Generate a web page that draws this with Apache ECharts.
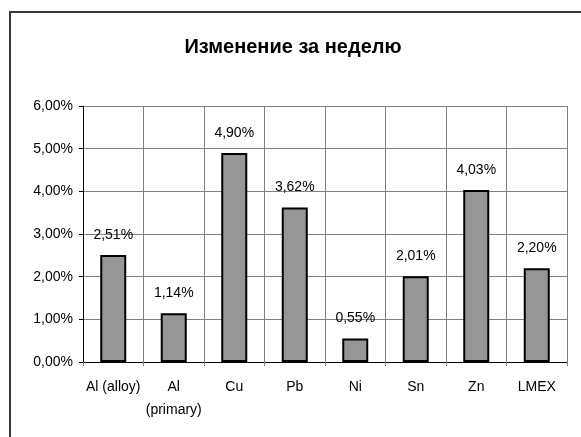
<!DOCTYPE html>
<html><head><meta charset="utf-8">
<script src="https://cdn.jsdelivr.net/npm/echarts@6/dist/echarts.min.js"></script>
<style>html,body{margin:0;padding:0;background:#fff}#c{width:581px;height:437px}</style>
</head><body><div id="c"></div>
<script>
var titleText = 'Изменение за неделю';
var categories = ['Al (alloy)', 'Al\n(primary)', 'Cu', 'Pb', 'Ni', 'Sn', 'Zn', 'LMEX'];
var values = [2.51, 1.14, 4.90, 3.62, 0.55, 2.01, 4.03, 2.20];
var yMin = 0, yMax = 6, yStep = 1;

function pct(v) { return v.toFixed(2).replace('.', ',') + '%'; }

var chart = echarts.init(document.getElementById('c'), null, {renderer: 'canvas'});
chart.setOption({
  animation: false,
  backgroundColor: '#fff',
  textStyle: {fontFamily: 'Liberation Sans, Arial, sans-serif'},
  graphic: [{
    type: 'rect', shape: {x: 10, y: 12, width: 620, height: 500},
    style: {fill: 'none', stroke: '#3a3a3a', lineWidth: 2}, z: -1
  }],
  title: {
    text: titleText, left: 288, top: 32, textAlign: 'center',
    textStyle: {fontSize: 20, fontWeight: 'bold', color: '#000', fontFamily: 'Liberation Sans, Arial, sans-serif'}
  },
  grid: {left: 83, right: 14, top: 106, bottom: 75},
  xAxis: {
    type: 'category', data: categories,
    axisLine: {lineStyle: {color: '#000', width: 1}},
    axisTick: {show: true, length: 4, lineStyle: {color: '#808080'}},
    splitLine: {show: true, lineStyle: {color: '#808080', width: 1}},
    axisLabel: {color: '#000', fontSize: 14, margin: 14, lineHeight: 23, interval: 0}
  },
  yAxis: {
    type: 'value', min: yMin, max: yMax, interval: yStep,
    axisLine: {show: true, lineStyle: {color: '#000', width: 1}},
    axisTick: {show: true, length: 4, lineStyle: {color: '#000'}},
    splitLine: {show: true, lineStyle: {color: '#808080', width: 1}},
    axisLabel: {color: '#000', fontSize: 14, margin: 10, formatter: function (v) { return pct(v); }}
  },
  series: [{
    type: 'bar', data: values, barWidth: '43%',
    itemStyle: {color: '#969696', borderColor: '#000', borderWidth: 2},
    label: {show: true, position: 'top', distance: 13, color: '#000', fontSize: 14,
      formatter: function (p) { return pct(p.value); }}
  }]
});
</script></body></html>
